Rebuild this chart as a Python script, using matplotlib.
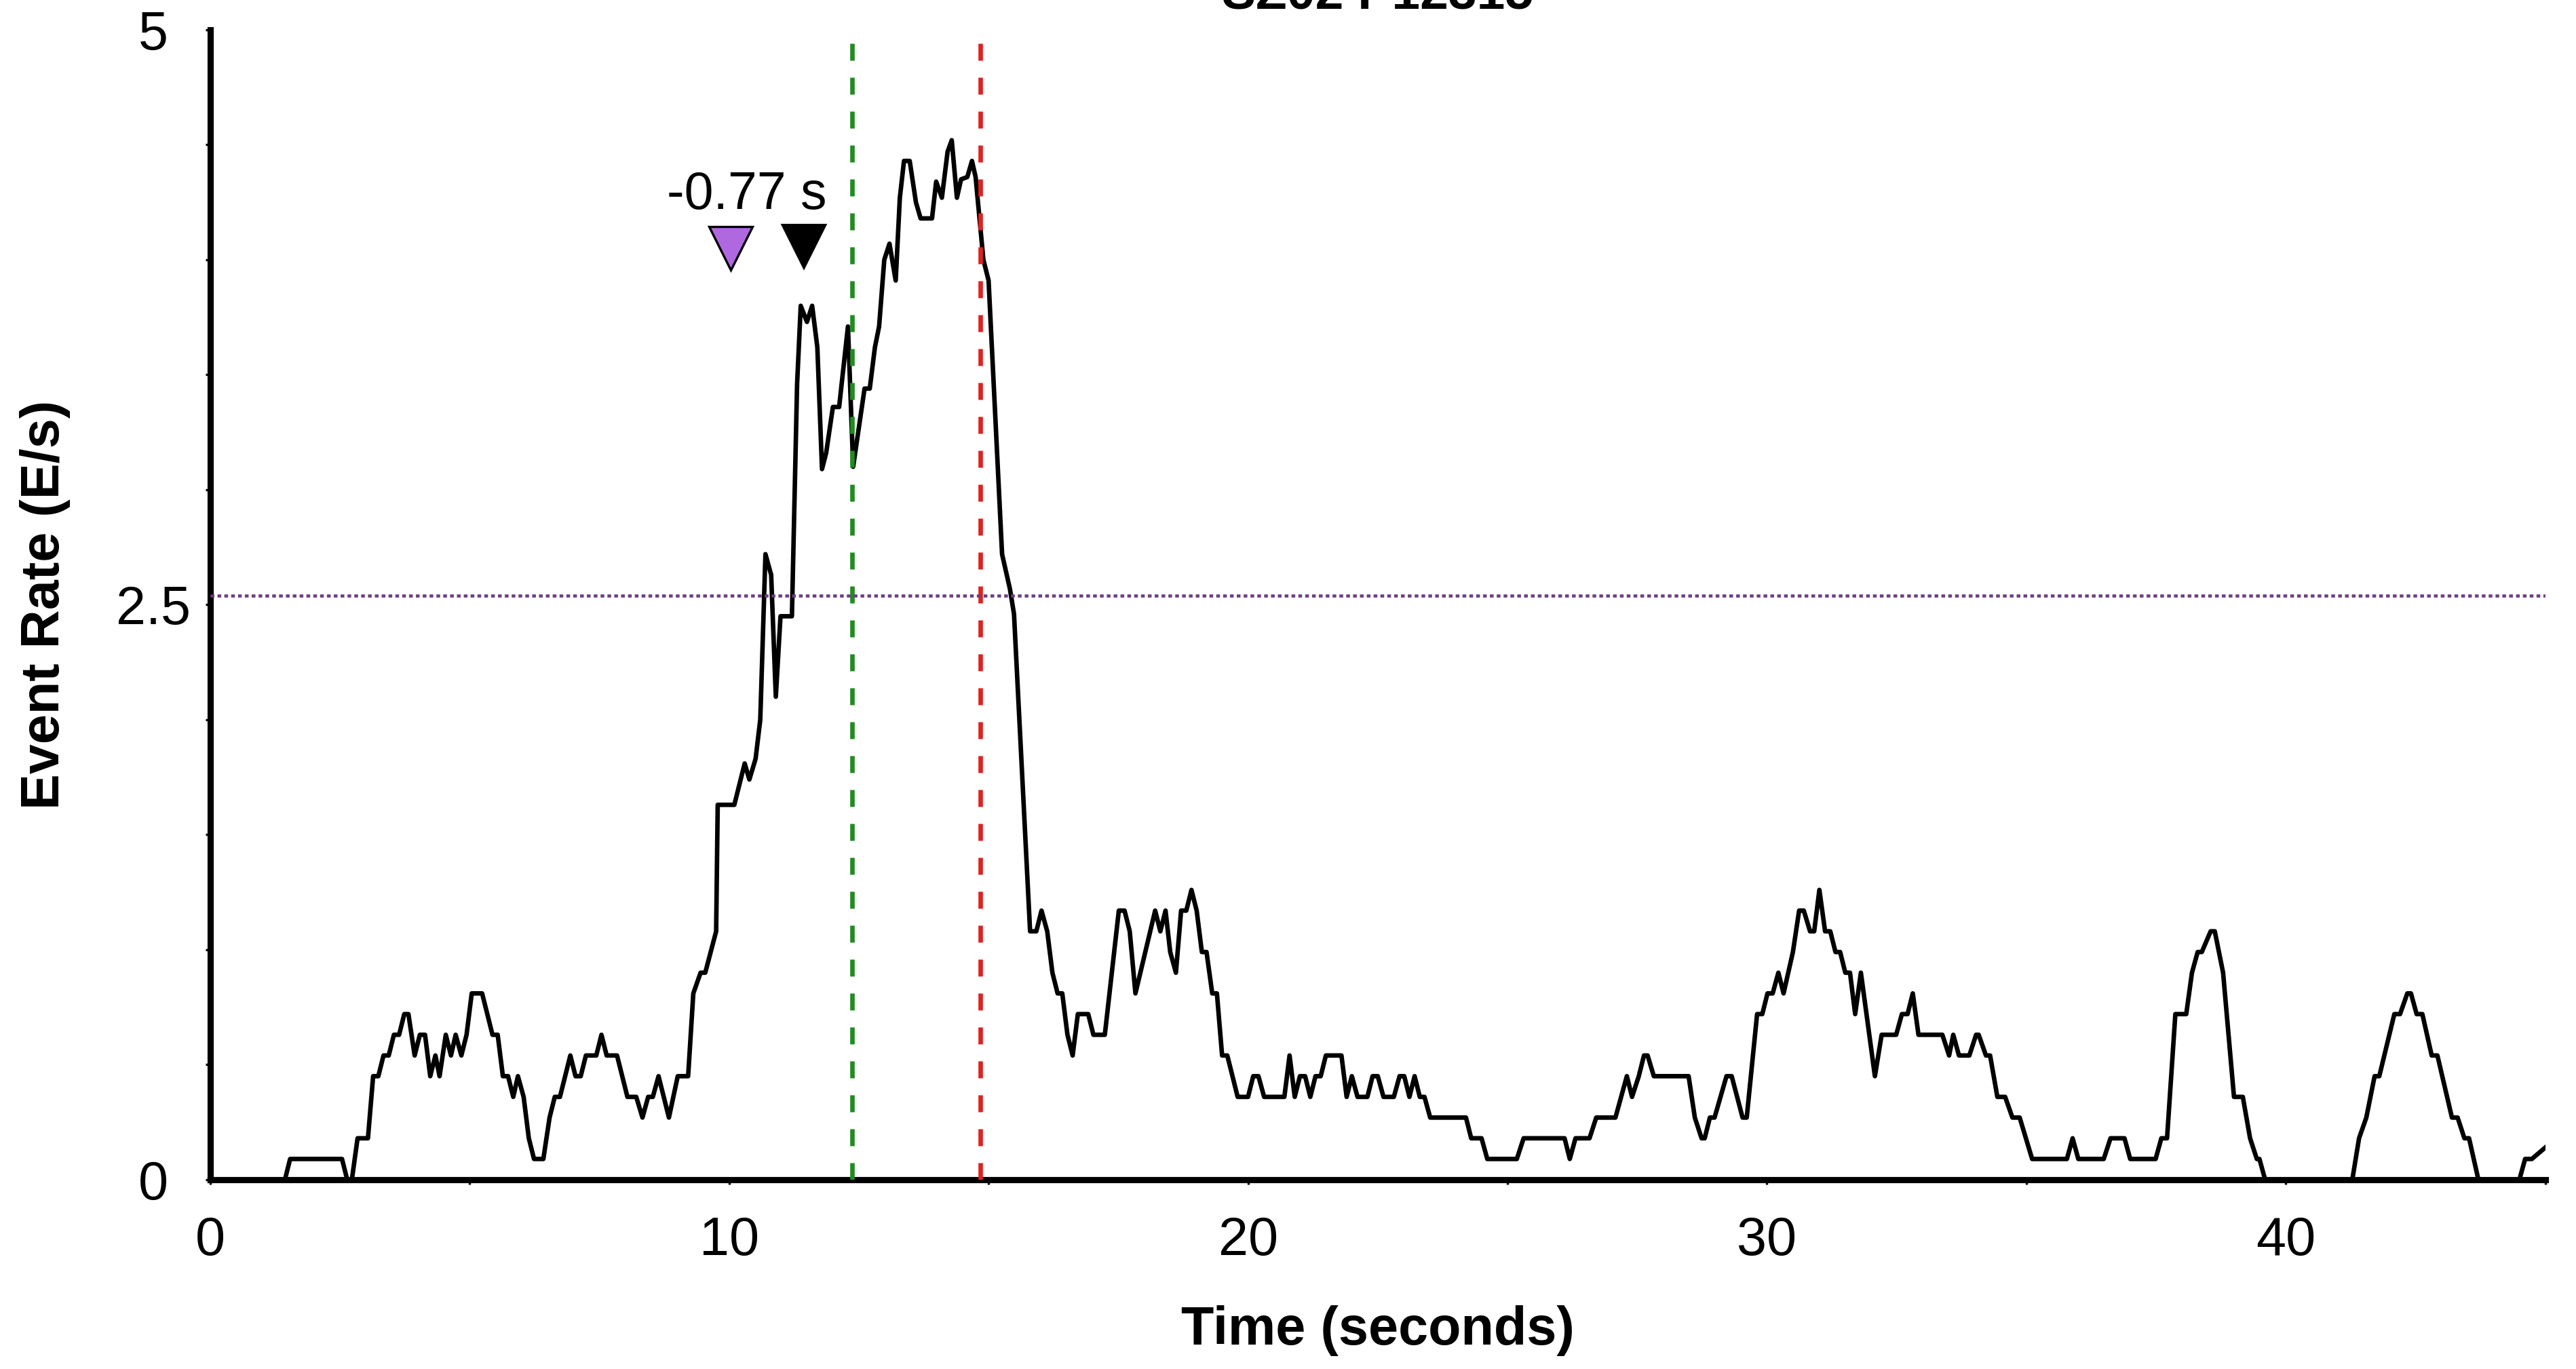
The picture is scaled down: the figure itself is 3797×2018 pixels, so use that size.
import matplotlib
matplotlib.use('Agg')
import matplotlib.pyplot as plt
from matplotlib.ticker import MultipleLocator

plt.rcParams['font.family'] = ['Liberation Sans', 'DejaVu Sans']

# smoothed event rate, vertices of the trace (time in s, rate in E/s)
time_s = [
    0.00, 1.44, 1.54, 2.54, 2.64, 2.73, 2.84, 3.04, 3.14, 3.24, 3.34, 3.44,
    3.54, 3.64, 3.74, 3.82, 3.94, 4.04, 4.14, 4.24, 4.34, 4.42, 4.54, 4.64,
    4.73, 4.84, 4.94, 5.04, 5.24, 5.44, 5.54, 5.64, 5.74, 5.84, 5.93, 6.04,
    6.14, 6.24, 6.42, 6.54, 6.64, 6.74, 6.94, 7.04, 7.14, 7.24, 7.44, 7.54,
    7.64, 7.84, 8.04, 8.21, 8.33, 8.44, 8.53, 8.64, 8.84, 9.01, 9.21, 9.31,
    9.45, 9.54, 9.75,
    9.78, 10.10, 10.30, 10.39, 10.51, 10.60, 10.70, 10.81, 10.90, 10.99,
    11.21, 11.31, 11.38, 11.50, 11.60, 11.70, 11.79, 11.87, 12.00, 12.12,
    12.29, 12.39, 12.61, 12.71, 12.81, 12.89, 12.99, 13.09, 13.21, 13.29,
    13.37, 13.48, 13.60, 13.69, 13.91, 13.99, 14.10, 14.21, 14.29, 14.39,
    14.47, 14.59, 14.68, 14.75, 14.90, 15.00, 15.26, 15.41, 15.49,
    15.80, 15.92, 16.02, 16.13, 16.23, 16.33, 16.42, 16.52, 16.62, 16.72,
    16.92, 17.02, 17.24, 17.51, 17.62, 17.72, 17.83, 18.21, 18.31, 18.41,
    18.50, 18.61, 18.71, 18.81, 18.91, 19.01, 19.11, 19.20, 19.31, 19.40,
    19.50, 19.60, 19.80, 20.00, 20.10, 20.20, 20.31, 20.70, 20.80, 20.90,
    21.00, 21.10, 21.20, 21.30, 21.40, 21.50, 21.80, 21.90, 22.00, 22.11,
    22.30, 22.40, 22.50, 22.61, 22.81, 22.92, 23.01, 23.11, 23.21, 23.31,
    23.40, 23.51, 24.20, 24.30, 24.50, 24.61, 25.18, 25.31, 26.10, 26.20,
    26.31, 26.58, 26.71, 27.08, 27.19, 27.30, 27.40, 27.53, 27.63, 27.70,
    27.82, 28.49, 28.61, 28.74, 28.80, 28.90, 28.99, 29.22, 29.32, 29.53,
    29.61, 29.81, 29.91, 30.01, 30.11, 30.22, 30.32, 30.50, 30.62, 30.71,
    30.83, 30.91, 31.01, 31.12, 31.22, 31.32, 31.41, 31.51, 31.60, 31.70,
    31.81, 32.08, 32.21, 32.49, 32.60, 32.71, 32.81, 32.92, 33.38, 33.51,
    33.59, 33.70, 33.90, 34.03, 34.08, 34.22, 34.30, 34.44, 34.59, 34.73,
    34.87, 35.11, 35.78, 35.89, 36.00, 36.49, 36.62, 36.89, 37.00, 37.49,
    37.60, 37.71, 37.87, 38.08, 38.19, 38.30, 38.38, 38.55, 38.63, 38.79,
    39.00, 39.17, 39.31, 39.44, 39.49, 39.60, 41.28, 41.41, 41.55, 41.71,
    41.80, 42.09, 42.20, 42.34, 42.41, 42.52, 42.63, 42.81, 42.92, 43.20,
    43.31, 43.44, 43.53, 43.71, 44.50, 44.61, 44.74, 45.00,
]
event_rate = [
    0.00, 0.00, 0.09, 0.09, 0.00, 0.00, 0.18, 0.18, 0.45, 0.45, 0.54, 0.54,
    0.63, 0.63, 0.72, 0.72, 0.54, 0.63, 0.63, 0.45, 0.54, 0.45, 0.63, 0.54,
    0.63, 0.54, 0.63, 0.81, 0.81, 0.63, 0.63, 0.45, 0.45, 0.36, 0.45, 0.36,
    0.18, 0.09, 0.09, 0.27, 0.36, 0.36, 0.54, 0.45, 0.45, 0.54, 0.54, 0.63,
    0.54, 0.54, 0.36, 0.36, 0.27, 0.36, 0.36, 0.45, 0.27, 0.45, 0.45, 0.81,
    0.90, 0.90, 1.08,
    1.63, 1.63, 1.81, 1.74, 1.83, 2.00, 2.72, 2.63, 2.10, 2.45,
    2.45, 3.46, 3.80, 3.73, 3.80, 3.62, 3.09, 3.16, 3.36, 3.36,
    3.71, 3.10, 3.44, 3.44, 3.62, 3.71, 4.00, 4.07, 3.91, 4.27,
    4.43, 4.43, 4.25, 4.18, 4.18, 4.34, 4.27, 4.47, 4.52, 4.27,
    4.35, 4.36, 4.43, 4.36, 4.00, 3.91, 2.72, 2.57, 2.46,
    1.08, 1.08, 1.17, 1.08, 0.90, 0.81, 0.81, 0.63, 0.54, 0.72,
    0.72, 0.63, 0.63, 1.17, 1.17, 1.08, 0.81, 1.17, 1.08, 1.17,
    0.99, 0.90, 1.17, 1.17, 1.26, 1.17, 0.99, 0.99, 0.81, 0.81,
    0.54, 0.54, 0.36, 0.36, 0.45, 0.45, 0.36, 0.36, 0.54, 0.36,
    0.45, 0.45, 0.36, 0.45, 0.45, 0.54, 0.54, 0.36, 0.45, 0.36,
    0.36, 0.45, 0.45, 0.36, 0.36, 0.45, 0.45, 0.36, 0.45, 0.36,
    0.36, 0.27, 0.27, 0.18, 0.18, 0.09, 0.09, 0.18, 0.18, 0.09,
    0.18, 0.18, 0.27, 0.27, 0.36, 0.45, 0.36, 0.45, 0.54, 0.54,
    0.45, 0.45, 0.27, 0.18, 0.18, 0.27, 0.27, 0.45, 0.45, 0.27,
    0.27, 0.72, 0.72, 0.81, 0.81, 0.90, 0.81, 0.99, 1.17, 1.17,
    1.08, 1.08, 1.26, 1.08, 1.08, 0.99, 0.99, 0.90, 0.90, 0.72,
    0.90, 0.45, 0.63, 0.63, 0.72, 0.72, 0.81, 0.63, 0.63, 0.54,
    0.63, 0.54, 0.54, 0.63, 0.63, 0.54, 0.54, 0.36, 0.36, 0.27,
    0.27, 0.09, 0.09, 0.18, 0.09, 0.09, 0.18, 0.18, 0.09, 0.09,
    0.18, 0.18, 0.72, 0.72, 0.90, 0.99, 0.99, 1.08, 1.08, 0.90,
    0.36, 0.36, 0.18, 0.09, 0.09, 0.00, 0.00, 0.18, 0.27, 0.45,
    0.45, 0.72, 0.72, 0.81, 0.81, 0.72, 0.72, 0.54, 0.54, 0.27,
    0.27, 0.18, 0.18, 0.00, 0.00, 0.09, 0.09, 0.14,
]

onset_time = 12.37       # green marker line
offset_time = 14.84      # red marker line
threshold = 2.54         # dotted rate threshold
detect_times = [10.03, 11.44]
detect_rates = [4.05, 4.06]
lag_label = '-0.77 s'
title = 'SZ02 P12315'

fig = plt.figure(figsize=(3797 / 300, 2018 / 300), dpi=300)
ax = fig.add_axes([0.0816, 0.1383, 0.9065, 0.8399])

ax.plot(time_s, event_rate, color='black', lw=1.6, zorder=2)

ax.axvline(onset_time, color='#228B22', lw=1.6, ls=(0, (3.75, 3.75)), zorder=3)
ax.axvline(offset_time, color='#DD2222', lw=1.6, ls=(0, (3.75, 3.75)), zorder=3)
ax.axhline(threshold, color='#6B3F7F', lw=1.1, ls=(0, (1.2, 1.0)), zorder=3)

ax.plot(detect_times[0], detect_rates[0], marker='v', ms=15.5,
        mfc='#B068E0', mec='black', mew=0.8, ls='none', zorder=4)
ax.plot(detect_times[1], detect_rates[1], marker='v', ms=15,
        color='black', ls='none', zorder=4)
ax.text(10.34, 4.22, lag_label, ha='center', va='baseline', fontsize=18.5)

ax.set_xlim(0, 45)
ax.set_ylim(0, 5)
ax.xaxis.set_major_locator(MultipleLocator(10))
ax.xaxis.set_minor_locator(MultipleLocator(5))
ax.set_yticks([0, 2.5, 5])
ax.set_yticklabels(['0', '2.5', '5'], ha='center')
ax.yaxis.set_minor_locator(MultipleLocator(0.5))

for side in ('top', 'right'):
    ax.spines[side].set_visible(False)
for side in ('left', 'bottom'):
    ax.spines[side].set_linewidth(2.2)

ax.tick_params(which='both', direction='out', length=1.7, width=0.8)
ax.tick_params(axis='x', which='major', labelsize=19, pad=11)
ax.tick_params(axis='y', which='major', labelsize=19, pad=18.5)

fig.text(0.5349, 0.028, 'Time (seconds)', ha='center', va='center',
         fontsize=19, fontweight='bold')
fig.text(0.0174, 0.5585, 'Event Rate (E/s)', ha='center', va='center',
         rotation=90, fontsize=19, fontweight='bold')
fig.text(0.5349, 0.994, title, ha='center', va='baseline',
         fontsize=18, fontweight='bold')

fig.savefig('out.png', dpi=300)
